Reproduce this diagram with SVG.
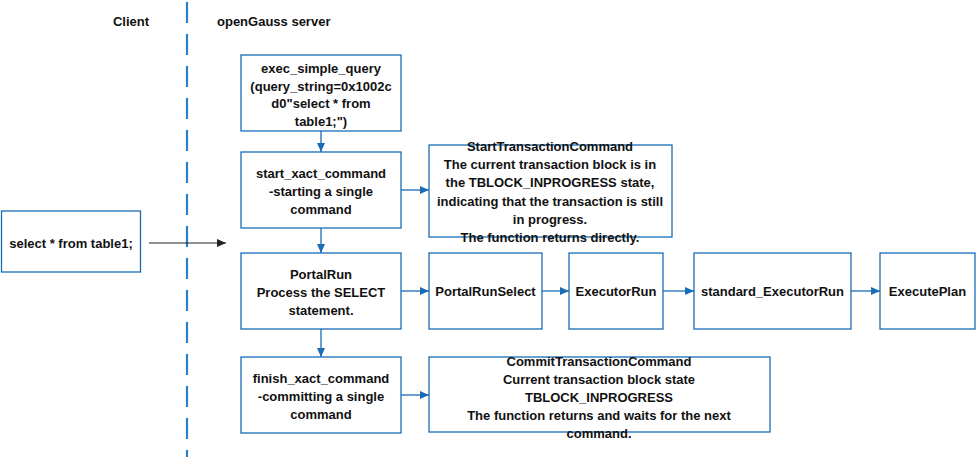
<svg xmlns="http://www.w3.org/2000/svg" width="976" height="457" viewBox="0 0 976 457">
<style>
text{font-family:"Liberation Sans",Arial,sans-serif;font-size:13px;font-weight:bold;fill:#111;text-anchor:middle}
.box{fill:#fff;stroke:#1a6db5;stroke-width:1.3}
.conn{stroke:#1a6db5;stroke-width:1.3;fill:none;marker-end:url(#ab)}
.blk{stroke:#222;stroke-width:1.2;fill:none;marker-end:url(#ak)}
</style>
<defs>
<marker id="ab" markerWidth="10" markerHeight="8" refX="9" refY="4" orient="auto" markerUnits="userSpaceOnUse"><path d="M0,0 L9,4 L0,8 Z" fill="#1a6db5"/></marker>
<marker id="ak" markerWidth="10" markerHeight="8" refX="9" refY="4" orient="auto" markerUnits="userSpaceOnUse"><path d="M0,0 L9,4 L0,8 Z" fill="#222"/></marker>
</defs>
<rect width="976" height="457" fill="#fff"/>
<line x1="187" y1="2" x2="187" y2="457" stroke="#2a80c6" stroke-width="2.2" stroke-dasharray="21 11"/>
<text x="131" y="25.5">Client</text>
<text x="217" y="25.5" style="text-anchor:start">openGauss server</text>
<g id="connectors">
<line class="blk" x1="149" y1="243" x2="226" y2="243"/>
<line class="conn" x1="321" y1="131" x2="321" y2="152"/>
<line class="conn" x1="321" y1="228" x2="321" y2="253"/>
<line class="conn" x1="321" y1="329" x2="321" y2="357"/>
<line class="conn" x1="401" y1="190" x2="429" y2="190"/>
<line class="conn" x1="401" y1="291" x2="429" y2="291"/>
<line class="conn" x1="542" y1="291" x2="569" y2="291"/>
<line class="conn" x1="663" y1="291" x2="694" y2="291"/>
<line class="conn" x1="851" y1="291" x2="880" y2="291"/>
<line class="conn" x1="401" y1="395" x2="429" y2="395"/>
</g>
<g id="client_query">
<rect class="box" x="1.5" y="211" width="139" height="61"/>
<text x="71" y="247.5">select * from table1;</text>
</g>
<g id="exec_simple_query">
<rect class="box" x="241" y="55" width="160" height="76"/>
<text x="321" y="73">exec_simple_query</text>
<text x="321" y="91">(query_string=0x1002c</text>
<text x="321" y="108">d0"select * from</text>
<text x="321" y="126">table1;")</text>
</g>
<g id="start_xact_command">
<rect class="box" x="241" y="152" width="160" height="76"/>
<text x="321" y="177.5">start_xact_command</text>
<text x="321" y="195.5">-starting a single</text>
<text x="321" y="213.5">command</text>
</g>
<g id="StartTransactionCommand">
<rect class="box" x="429" y="145" width="243" height="92"/>
<text x="550" y="150.5">StartTransactionCommand</text>
<text x="550" y="168.5">The current transaction block is in</text>
<text x="550" y="187">the TBLOCK_INPROGRESS state,</text>
<text x="550" y="205.5">indicating that the transaction is still</text>
<text x="550" y="223.5">in progress.</text>
<text x="550" y="241.5">The function returns directly.</text>
</g>
<g id="PortalRun">
<rect class="box" x="241" y="253" width="160" height="76"/>
<text x="321" y="278.5">PortalRun</text>
<text x="321" y="296.5">Process the SELECT</text>
<text x="321" y="314.5">statement.</text>
</g>
<g id="PortalRunSelect">
<rect class="box" x="429" y="253" width="113" height="76"/>
<text x="485.5" y="296">PortalRunSelect</text>
</g>
<g id="ExecutorRun">
<rect class="box" x="569" y="253" width="94" height="76"/>
<text x="616" y="296">ExecutorRun</text>
</g>
<g id="standard_ExecutorRun">
<rect class="box" x="694" y="253" width="157" height="76"/>
<text x="772.5" y="296">standard_ExecutorRun</text>
</g>
<g id="ExecutePlan">
<rect class="box" x="880" y="253" width="95" height="76"/>
<text x="927.5" y="296">ExecutePlan</text>
</g>
<g id="finish_xact_command">
<rect class="box" x="241" y="357" width="160" height="76"/>
<text x="321" y="382.5">finish_xact_command</text>
<text x="321" y="401">-committing a single</text>
<text x="321" y="418.5">command</text>
</g>
<g id="CommitTransactionCommand">
<rect class="box" x="429" y="357" width="341" height="75"/>
<text x="599" y="365.5">CommitTransactionCommand</text>
<text x="599" y="383.5">Current transaction block state</text>
<text x="599" y="401.5">TBLOCK_INPROGRESS</text>
<text x="599" y="419.5">The function returns and waits for the next</text>
<text x="599" y="437.5">command.</text>
</g>
</svg>
